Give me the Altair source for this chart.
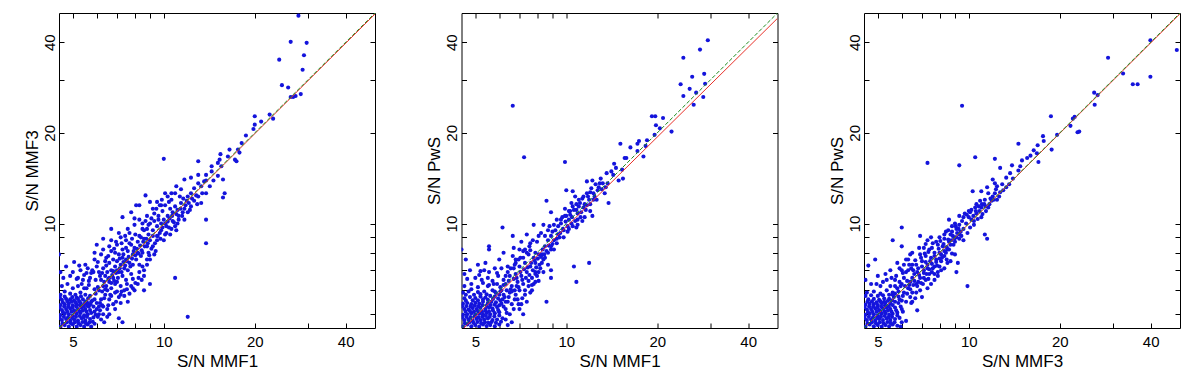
import altair as alt
import pandas as pd

# ---------------- axis settings ----------------
TICKS = [5, 6, 7, 8, 9, 10, 20, 30, 40]
X_LABELS = [5, 10, 20, 40]
Y_LABELS = [10, 20, 40]
DOMAIN = [4.5, 50]
BLUE = "#1414dc"

# ---------------- panel 1 : S/N MMF1 (x) vs S/N MMF3 (y) ----------------
p1_core = [
    (4.55, 4.55), (4.7, 4.6), (4.85, 4.55), (5.0, 4.62), (5.15, 4.55), (5.3, 4.6), (5.45, 4.55), (5.6, 4.62), (5.75, 4.55), (5.9, 4.65),
    (4.6, 4.78), (4.75, 4.82), (4.9, 4.75), (5.05, 4.8), (5.2, 4.76), (5.35, 4.85), (5.5, 4.76), (5.7, 4.82), (5.85, 4.88), (6.05, 4.9),
    (4.55, 4.97), (4.7, 5.02), (4.85, 5.0), (5.0, 4.95), (5.15, 5.02), (5.3, 5.05), (5.45, 4.96), (5.6, 5.0), (5.75, 5.05), (5.9, 5.1),
    (4.6, 5.16), (4.75, 5.2), (4.9, 5.22), (5.05, 5.15), (5.2, 5.2), (5.35, 5.25), (5.5, 5.2), (5.65, 5.3), (5.85, 5.3),
    (4.55, 5.36), (4.7, 5.4), (4.85, 5.42), (5.0, 5.35), (5.15, 5.4), (5.3, 5.45), (5.45, 5.4), (5.6, 5.42), (5.75, 5.5), (6.0, 5.45),
    (4.6, 5.58), (4.75, 5.62), (4.9, 5.6), (5.05, 5.56), (5.2, 5.62), (5.4, 5.6), (5.55, 5.52),
]
p1_core_fill = [
    (4.62, 4.66), (4.78, 4.7), (4.93, 4.67), (5.08, 4.7), (5.23, 4.66), (5.38, 4.71), (5.52, 4.67), (5.68, 4.7), (5.82, 4.72),
    (4.52, 4.86), (4.67, 4.9), (4.82, 4.88), (4.97, 4.86), (5.12, 4.9), (5.27, 4.93), (5.42, 4.88), (5.57, 4.9), (5.95, 4.98),
    (4.64, 5.08), (4.79, 5.1), (4.95, 5.1), (5.1, 5.08), (5.25, 5.12), (5.4, 5.14), (5.55, 5.1), (5.7, 5.16), (6.0, 5.2),
    (4.52, 5.26), (4.68, 5.3), (4.83, 5.31), (4.98, 5.26), (5.13, 5.3), (5.28, 5.35), (5.43, 5.31), (5.58, 5.33), (5.72, 5.4),
    (4.63, 5.48), (4.8, 5.52), (4.95, 5.5), (5.1, 5.48), (5.25, 5.52), (5.5, 5.5), (5.9, 5.6), (4.53, 5.68), (4.7, 5.72),
    (4.98, 5.7), (5.15, 5.68), (5.32, 5.73), (5.62, 5.65), (5.8, 5.55), (6.1, 5.3), (6.15, 5.15), (6.2, 4.8), (6.35, 4.7), (6.5, 4.9),
]
p1_upper = [
    (4.55, 5.8), (4.7, 5.95), (4.9, 5.85), (5.1, 5.8), (5.3, 5.9), (5.5, 5.8), (5.7, 5.75), (4.6, 6.2), (4.8, 6.3), (5.0, 6.1),
    (5.2, 6.2), (5.45, 6.1), (5.65, 6.25), (5.9, 6.05), (4.65, 6.6), (4.9, 6.7), (5.15, 6.55), (5.4, 6.5), (5.7, 6.6), (5.0, 6.9),
    (5.3, 7.0), (4.55, 6.9), (5.55, 6.85), (5.85, 6.9), (4.5, 7.9), (5.05, 7.45), (5.9, 8.0), (5.5, 7.3), (4.75, 7.2), (5.8, 7.0),
    (6.0, 7.2), (5.9, 7.6),
]
p1_band = [
    (6.1, 5.0), (6.3, 5.3), (6.5, 5.2), (6.2, 5.6), (6.4, 5.8), (6.6, 5.6), (6.8, 5.4), (6.1, 6.0), (6.3, 6.2), (6.5, 6.0),
    (6.7, 6.1), (6.9, 5.9), (7.1, 5.7), (6.2, 6.5), (6.4, 6.7), (6.6, 6.4), (6.8, 6.6), (7.0, 6.4), (7.2, 6.2), (6.1, 6.9),
    (6.3, 7.1), (6.5, 6.9), (6.7, 7.0), (6.9, 7.2), (7.1, 6.9), (7.3, 6.7), (7.5, 6.5), (6.4, 7.5), (6.6, 7.4), (6.8, 7.6),
    (7.0, 7.5), (7.2, 7.3), (7.4, 7.1), (7.6, 7.0), (7.8, 6.8), (6.9, 8.0), (7.1, 7.9), (7.3, 7.7), (7.5, 7.6), (7.7, 7.4),
    (7.9, 7.3), (6.3, 8.2), (6.6, 8.4), (7.0, 8.5), (7.3, 8.2), (7.6, 8.1), (7.9, 7.9), (8.1, 7.6), (8.3, 7.3), (6.7, 8.8),
    (7.1, 9.3), (7.5, 8.8), (7.8, 8.5), (8.0, 8.3), (8.2, 8.0), (8.4, 7.8), (6.7, 9.6), (7.3, 10.5), (6.3, 8.9), (6.0, 8.5),
    (6.6, 5.0), (7.3, 4.7), (7.1, 4.85), (6.3, 5.0), (7.6, 5.5), (7.8, 6.2), (8.0, 6.0), (8.2, 6.3), (8.6, 6.0), (9.0, 6.3),
    (8.6, 6.7), (8.8, 7.3), (9.0, 7.6), (10.9, 6.6), (12.0, 4.9), (7.2, 5.8), (7.4, 6.0), (6.9, 6.3),
]
p1_band_fill = [
    (5.95, 5.85), (6.05, 6.15), (6.25, 5.95), (6.35, 6.4), (6.45, 6.2), (6.55, 6.55), (6.7, 6.35), (6.75, 6.75), (6.85, 6.45),
    (6.95, 6.85), (7.05, 6.6), (7.15, 7.1), (7.25, 6.9), (7.35, 7.45), (7.45, 7.25), (7.55, 7.5), (7.65, 7.75), (7.75, 7.2),
    (7.85, 7.65), (7.95, 8.1), (8.05, 7.85), (8.15, 8.25), (8.25, 7.95), (8.35, 8.45), (8.45, 8.15), (8.55, 8.7), (8.65, 8.4),
    (8.75, 8.9), (8.85, 8.6), (6.15, 6.7), (6.45, 7.25), (6.55, 7.8), (6.85, 8.25), (7.25, 8.6), (7.45, 9.1), (7.7, 9.3),
    (6.95, 5.5), (7.25, 5.95), (7.55, 6.3), (7.9, 6.55), (8.3, 6.9), (8.5, 7.2), (6.25, 5.35), (6.65, 5.8), (5.65, 6.45),
    (5.75, 6.85), (6.05, 7.45), (6.2, 7.9), (5.95, 6.5), (5.55, 6.1), (5.35, 6.3),
]
p1_band_extra = [
    (5.2, 6.6), (5.45, 6.75), (5.6, 7.1), (5.25, 7.25), (6.15, 5.45), (6.35, 5.65), (6.55, 5.35), (6.7, 5.75), (6.9, 5.2),
    (7.0, 5.95), (7.2, 5.45), (7.4, 5.75), (7.55, 6.05), (7.7, 5.85), (7.9, 6.1), (8.05, 6.35), (8.25, 6.6), (8.45, 6.5),
    (8.6, 7.0), (8.8, 7.6), (8.95, 7.85), (6.25, 6.85), (6.4, 6.05), (6.6, 6.6), (6.8, 6.95), (7.0, 7.0), (7.15, 7.65),
    (7.35, 7.9), (7.5, 8.3), (7.7, 8.6), (7.85, 8.9), (8.05, 9.2), (8.2, 8.7), (8.4, 9.0), (8.5, 9.6), (8.7, 10.2),
    (8.9, 9.9), (9.1, 10.4), (9.3, 10.8), (9.45, 11.2), (9.7, 11.5), (9.85, 12.0), (10.3, 12.3), (10.6, 12.6), (11.0, 13.3),
    (9.5, 9.1), (9.75, 8.9), (10.1, 9.2), (10.4, 9.7), (10.7, 10.2), (11.2, 10.3), (11.5, 10.6), (12.2, 11.1), (12.9, 11.6),
    (6.45, 7.7), (6.7, 8.1), (6.95, 8.7), (7.2, 9.0), (7.6, 9.6), (8.0, 10.4),
]
p1_mid = [
    (8.0, 9.9), (8.3, 9.1), (8.6, 9.5), (8.8, 8.4), (8.5, 8.0), (9.0, 8.8), (9.2, 8.4), (9.2, 9.1), (9.0, 10.0), (9.5, 8.8),
    (8.3, 10.3), (8.8, 10.6), (8.1, 11.5), (7.8, 10.9), (9.2, 9.5), (9.5, 9.8), (9.8, 9.5), (9.8, 10.0), (10.0, 10.3), (10.2, 9.8),
    (10.0, 8.8), (10.5, 9.2), (8.7, 12.4), (8.3, 11.5), (9.0, 11.8), (9.5, 11.8), (9.2, 11.2), (9.8, 11.5), (10.1, 11.5), (10.1, 12.6),
    (10.6, 12.0), (10.3, 10.6), (10.5, 11.2), (10.7, 10.9), (10.9, 9.8), (11.1, 10.0), (11.0, 9.5), (10.9, 11.4), (11.1, 11.1), (11.4, 11.7),
    (11.7, 11.2), (11.7, 10.3), (12.0, 10.9), (12.3, 11.4), (12.6, 11.9), (11.9, 11.9), (12.0, 12.3), (11.4, 13.0), (10.9, 12.6), (11.7, 14.0),
    (12.3, 12.6), (12.6, 13.1), (12.3, 14.2), (13.0, 13.6), (13.3, 13.3), (13.4, 12.6), (13.0, 12.3), (13.3, 11.7), (13.6, 13.8), (13.8, 12.6),
    (13.8, 13.9), (13.8, 14.5), (13.0, 14.5), (14.2, 13.3), (14.6, 13.9), (14.4, 15.5), (14.4, 14.9), (15.1, 14.4), (15.7, 14.0), (15.1, 15.9),
    (15.5, 15.5), (15.3, 16.3), (15.4, 17.0), (16.3, 16.7), (16.5, 17.6), (17.2, 16.3), (17.4, 16.1), (17.6, 17.6), (17.8, 17.2), (18.1, 18.5),
    (18.7, 19.6), (13.0, 16.1), (10.0, 16.4), (15.9, 12.6), (15.7, 12.2), (13.8, 10.3), (13.8, 8.6), (9.3, 7.9), (8.9, 9.2), (9.6, 10.6),
    (8.5, 10.0),
]
p1_mid_fill = [
    (8.9, 8.0), (9.1, 8.25), (9.35, 8.6), (9.55, 9.1), (9.7, 9.3), (9.9, 9.7), (10.1, 10.0), (10.3, 10.15), (10.45, 10.4), (10.65, 10.6),
    (10.8, 10.1), (11.0, 10.75), (11.2, 10.6), (11.35, 11.2), (11.55, 10.9), (11.8, 11.5), (12.1, 11.7), (12.4, 12.1), (12.8, 12.4),
    (9.3, 10.2), (9.6, 10.3), (8.8, 9.6), (8.6, 8.9), (9.4, 8.1), (10.2, 9.3), (10.6, 9.6), (11.3, 12.3), (11.6, 12.1), (10.4, 11.8),
    (9.9, 11.0),
]
p1_top = [
    (19.8, 20.6), (20.0, 21.3), (20.0, 22.7), (21.0, 21.8), (22.4, 23.0), (23.0, 22.3), (24.6, 28.8), (25.8, 28.3), (26.3, 26.3),
    (26.8, 26.3), (27.3, 26.5), (28.4, 26.9), (24.1, 35.0), (28.8, 32.4), (29.1, 36.2), (26.3, 40.1), (29.7, 39.8), (27.9, 49.0),
]

# ---------------- panel 2 : S/N MMF1 (x) vs S/N PwS (y) ----------------
p2_core = [
    (4.55, 4.55), (4.7, 4.62), (4.85, 4.56), (5.0, 4.6), (5.15, 4.55), (5.3, 4.62), (5.45, 4.57), (5.6, 4.6), (5.8, 4.56), (6.0, 4.62),
    (4.6, 4.78), (4.75, 4.8), (4.9, 4.76), (5.05, 4.82), (5.2, 4.78), (5.35, 4.8), (5.5, 4.84), (5.7, 4.78), (5.9, 4.8), (6.15, 4.85),
    (4.55, 4.98), (4.7, 5.0), (4.85, 5.04), (5.0, 4.98), (5.15, 5.02), (5.3, 5.0), (5.45, 5.05), (5.6, 5.0), (5.8, 5.04), (6.0, 5.08),
    (4.6, 5.2), (4.75, 5.18), (4.9, 5.24), (5.05, 5.2), (5.2, 5.25), (5.4, 5.2), (5.55, 5.26), (5.7, 5.22), (5.9, 5.28), (6.2, 5.3),
    (4.55, 5.42), (4.7, 5.45), (4.85, 5.4), (5.0, 5.46), (5.15, 5.42), (5.3, 5.5), (5.5, 5.45), (5.65, 5.5), (5.85, 5.48), (6.05, 5.55),
    (4.6, 5.65), (4.8, 5.7), (5.0, 5.66), (5.2, 5.72), (5.4, 5.68), (5.6, 5.75), (5.8, 5.72), (6.0, 5.8), (6.25, 5.7),
    (4.55, 5.9), (4.75, 5.95), (5.1, 5.92), (5.35, 5.95), (5.7, 6.0), (6.1, 6.0),
]
p2_core_fill = [
    (4.62, 4.67), (4.78, 4.7), (4.93, 4.68), (5.08, 4.71), (5.23, 4.67), (5.38, 4.7), (5.52, 4.68), (5.66, 4.71), (5.85, 4.68),
    (6.08, 4.72), (4.52, 4.88), (4.67, 4.9), (4.82, 4.89), (4.97, 4.92), (5.12, 4.88), (5.27, 4.9), (5.42, 4.93), (5.58, 4.9),
    (5.78, 4.92), (6.0, 4.95), (4.64, 5.1), (4.8, 5.12), (4.95, 5.1), (5.1, 5.12), (5.26, 5.1), (5.4, 5.13), (5.55, 5.1),
    (5.72, 5.14), (5.95, 5.16), (4.52, 5.31), (4.67, 5.32), (4.82, 5.3), (4.98, 5.34), (5.12, 5.31), (5.28, 5.36), (5.45, 5.33),
    (5.62, 5.36), (5.8, 5.38), (6.1, 5.42), (4.65, 5.55), (4.9, 5.56), (5.1, 5.56), (5.3, 5.6), (5.5, 5.58), (5.72, 5.62),
    (5.95, 5.64), (4.65, 5.8), (4.95, 5.8), (5.2, 5.83), (5.45, 5.82), (5.85, 5.88), (6.3, 5.5), (6.35, 5.05), (6.4, 4.6), (6.6, 4.7),
]
p2_upper = [
    (4.6, 6.2), (4.85, 6.3), (5.1, 6.15), (5.3, 6.35), (5.55, 6.25), (4.7, 6.55), (5.0, 6.6), (5.25, 6.5), (5.5, 6.6), (4.85, 6.05),
    (5.9, 6.3), (6.2, 6.25), (4.5, 8.2), (4.65, 7.6), (5.1, 7.3), (5.4, 7.4), (5.55, 6.9), (5.55, 8.4), (5.55, 8.2), (6.15, 9.7),
    (6.65, 9.1), (6.2, 8.0), (6.65, 7.8), (6.4, 7.2), (6.8, 7.4), (4.8, 7.0), (5.8, 7.1), (6.0, 7.6), (5.2, 6.95), (4.6, 6.8),
]
p2_band = [
    (6.3, 4.8), (6.5, 5.0), (6.7, 5.2), (7.2, 5.0), (6.3, 5.2), (6.4, 5.5), (6.6, 5.4), (6.9, 5.6), (7.1, 5.4), (6.2, 5.8),
    (6.5, 5.9), (6.8, 5.8), (7.0, 6.0), (7.3, 5.8), (7.6, 5.9), (6.3, 6.3), (6.6, 6.2), (6.9, 6.4), (7.2, 6.3), (7.5, 6.2),
    (7.8, 6.3), (6.5, 6.7), (6.8, 6.8), (7.1, 6.7), (7.4, 6.9), (7.7, 6.6), (8.0, 6.7), (6.7, 7.1), (7.0, 7.2), (7.3, 7.4),
    (7.6, 7.2), (7.9, 7.4), (8.2, 7.1), (7.2, 7.7), (7.5, 7.9), (7.8, 7.7), (8.1, 7.9), (8.4, 7.6), (7.0, 8.2), (7.4, 8.0),
    (7.9, 8.0), (8.5, 8.4), (7.6, 8.6), (8.1, 9.1), (8.7, 8.8), (9.1, 8.8), (8.9, 9.1), (8.4, 9.9), (7.8, 9.9), (8.8, 9.8),
    (9.2, 9.5), (8.6, 11.9), (8.9, 10.9), (8.6, 5.5), (8.9, 7.0), (8.9, 6.6), (7.9, 6.9), (7.9, 6.4), (8.3, 7.9),
]
p2_band_fill = [
    (6.05, 6.15), (6.2, 6.5), (6.35, 6.0), (6.45, 6.45), (6.55, 6.05), (6.7, 6.55), (6.75, 6.0), (6.85, 6.6), (6.95, 6.15),
    (7.05, 6.9), (7.15, 6.5), (7.25, 7.05), (7.35, 6.6), (7.45, 7.15), (7.55, 6.75), (7.65, 7.4), (7.75, 7.0), (7.85, 7.55),
    (7.95, 7.15), (8.05, 7.65), (8.15, 7.3), (8.25, 7.75), (8.35, 8.2), (8.45, 7.9), (8.6, 8.1), (8.75, 8.45), (8.9, 8.2),
    (9.0, 8.55), (6.4, 6.9), (6.75, 7.3), (6.95, 7.6), (7.2, 8.1), (7.6, 8.15), (5.75, 6.3), (5.95, 6.7), (6.1, 7.1),
    (7.0, 5.2), (7.4, 5.5), (7.7, 6.0), (8.1, 6.45), (8.4, 6.9), (8.7, 7.3), (6.0, 5.35), (6.75, 5.6),
]
p2_band_extra = [
    (5.15, 6.75), (5.35, 7.0), (5.7, 6.45), (5.9, 6.85), (6.05, 5.95), (6.15, 5.6), (6.45, 5.7), (6.6, 5.95), (6.85, 6.2),
    (6.95, 5.4), (7.15, 5.65), (7.3, 6.0), (7.5, 6.45), (7.7, 6.25), (7.9, 6.8), (8.1, 6.9), (8.3, 7.4), (8.5, 7.7),
    (8.7, 8.0), (8.9, 8.4), (9.1, 8.2), (9.3, 8.6), (9.5, 9.0), (6.3, 6.7), (6.55, 7.1), (6.8, 7.6), (7.05, 7.7),
    (7.3, 8.2), (7.55, 8.4), (7.75, 8.8), (8.0, 8.7), (8.25, 9.3), (8.5, 9.1), (8.7, 9.5), (9.0, 9.4), (9.4, 9.8),
    (9.6, 10.3), (9.9, 10.6), (10.2, 11.0), (10.5, 11.4), (10.8, 11.1), (11.1, 11.7), (11.3, 12.1), (11.8, 12.3), (12.3, 12.6),
    (9.8, 9.0), (10.1, 9.4), (10.5, 9.8), (10.9, 9.9), (11.5, 10.5), (12.0, 11.0), (5.5, 6.2), (5.8, 5.95), (6.7, 8.3),
    (7.1, 8.7), (7.4, 9.2),
]
p2_mid = [
    (9.6, 10.0), (10.1, 9.8), (10.2, 10.3), (10.9, 10.3), (10.6, 11.1), (10.4, 11.7), (11.0, 11.4), (11.2, 10.9), (11.6, 11.1), (12.2, 10.6),
    (10.5, 12.8), (10.0, 12.9), (11.7, 12.6), (12.1, 13.1), (12.4, 12.3), (11.7, 13.8), (12.2, 13.9), (12.7, 12.9), (13.4, 12.6), (13.8, 11.7),
    (12.9, 13.6), (13.7, 13.6), (13.0, 14.1), (13.6, 14.7), (14.1, 14.9), (14.9, 13.9), (15.4, 14.1), (15.3, 15.1), (14.4, 15.8), (15.1, 18.4),
    (15.6, 16.5), (15.8, 16.5), (16.3, 17.9), (17.2, 17.4), (18.0, 16.7), (18.3, 18.1), (17.2, 18.4), (17.4, 18.8), (18.5, 18.9), (19.6, 19.7),
    (9.8, 9.5), (9.3, 10.3), (10.0, 10.6), (10.4, 10.0), (10.8, 9.7), (11.3, 10.2), (11.5, 11.6), (11.0, 12.0), (10.7, 12.3), (11.9, 12.0),
    (12.6, 12.0), (13.1, 13.0), (12.5, 13.5), (14.3, 14.5), (14.6, 15.3), (10.6, 7.2), (11.9, 7.4), (10.8, 6.4), (9.9, 16.0), (7.25, 16.6),
    (6.65, 24.6), (9.4, 9.2), (9.9, 11.2), (10.3, 11.0),
]
p2_mid_fill = [
    (9.3, 8.9), (9.55, 9.3), (9.75, 9.6), (9.95, 10.15), (10.2, 9.6), (10.45, 10.5), (10.7, 10.2), (10.9, 10.8), (11.15, 10.5),
    (11.4, 11.3), (11.7, 11.5), (12.0, 11.6), (12.3, 12.0), (12.0, 12.7), (11.4, 12.3), (10.8, 11.6), (10.3, 10.7), (9.1, 9.9),
    (9.7, 10.5), (13.2, 13.6), (13.5, 13.2), (12.8, 13.2),
]
p2_top = [
    (19.2, 22.7), (19.7, 22.7), (19.8, 21.2), (20.4, 20.7), (20.9, 22.4), (22.3, 20.2), (29.4, 40.6), (27.7, 37.8), (24.4, 35.5),
    (26.1, 30.7), (28.6, 31.4), (23.9, 29.0), (25.6, 28.0), (28.8, 29.1), (26.9, 27.2), (24.4, 26.5), (28.4, 26.3), (26.4, 24.8),
]

# ---------------- panel 3 : S/N MMF3 (x) vs S/N PwS (y) ----------------
p3_core = [
    (4.55, 4.55), (4.7, 4.62), (4.85, 4.56), (5.0, 4.6), (5.15, 4.55), (5.3, 4.6), (5.45, 4.56), (5.6, 4.62), (5.8, 4.58),
    (4.6, 4.78), (4.75, 4.8), (4.9, 4.76), (5.05, 4.82), (5.2, 4.78), (5.35, 4.84), (5.5, 4.78), (5.7, 4.82), (5.9, 4.86),
    (4.55, 4.98), (4.7, 5.02), (4.85, 5.0), (5.0, 4.96), (5.15, 5.02), (5.3, 5.04), (5.45, 4.98), (5.6, 5.02), (5.8, 5.06),
    (4.6, 5.18), (4.75, 5.2), (4.9, 5.22), (5.05, 5.16), (5.2, 5.22), (5.35, 5.26), (5.5, 5.2), (5.7, 5.26), (5.95, 5.3),
    (4.55, 5.38), (4.7, 5.42), (4.85, 5.4), (5.0, 5.36), (5.15, 5.44), (5.3, 5.46), (5.5, 5.42), (5.7, 5.5),
    (4.65, 5.6), (4.85, 5.62), (5.05, 5.58), (5.25, 5.64), (5.45, 5.62), (5.65, 5.7), (5.85, 5.72),
]
p3_core_fill = [
    (4.62, 4.66), (4.78, 4.7), (4.93, 4.67), (5.08, 4.7), (5.23, 4.66), (5.38, 4.71), (5.52, 4.67), (5.68, 4.7), (4.52, 4.86),
    (4.67, 4.9), (4.82, 4.88), (4.97, 4.86), (5.12, 4.9), (5.27, 4.93), (5.42, 4.88), (5.57, 4.9), (5.8, 4.95), (4.64, 5.08),
    (4.79, 5.1), (4.95, 5.1), (5.1, 5.08), (5.25, 5.12), (5.4, 5.14), (5.55, 5.1), (5.75, 5.15), (4.52, 5.28), (4.68, 5.3),
    (4.83, 5.31), (4.98, 5.26), (5.13, 5.3), (5.28, 5.35), (5.43, 5.31), (5.6, 5.36), (5.85, 5.45), (4.62, 5.5), (4.78, 5.52),
    (4.95, 5.48), (5.1, 5.52), (5.25, 5.5), (5.4, 5.54), (5.58, 5.56), (4.55, 5.75), (4.75, 5.78), (5.0, 5.75), (5.2, 5.78),
    (5.45, 5.8), (5.7, 5.85), (6.0, 5.55), (6.05, 5.1), (6.0, 4.7), (5.95, 4.55),
]
p3_upper = [
    (4.65, 7.25), (4.9, 7.6), (4.75, 6.3), (4.95, 6.3), (5.2, 6.4), (5.5, 6.2), (5.3, 6.8), (5.0, 6.7), (4.6, 5.9), (4.85, 5.95),
    (5.1, 5.85), (5.35, 6.0), (5.6, 5.9), (5.6, 8.8), (6.0, 9.7), (6.0, 8.4), (6.5, 8.0), (5.8, 7.4), (6.2, 7.6), (5.5, 7.0),
    (4.55, 6.5),
]
p3_band = [
    (5.6, 5.8), (5.9, 5.6), (6.1, 5.9), (5.8, 6.1), (6.0, 6.3), (6.3, 6.1), (6.5, 5.9), (6.2, 5.5), (6.4, 5.7), (6.75, 5.15),
    (6.2, 4.75), (5.7, 6.5), (6.1, 6.6), (6.4, 6.4), (6.7, 6.3), (6.9, 6.0), (6.6, 6.8), (6.9, 6.6), (7.2, 6.5), (6.3, 7.0),
    (6.8, 7.1), (7.1, 7.0), (7.4, 6.8), (6.5, 7.3), (7.0, 7.5), (7.3, 7.3), (7.6, 7.1), (7.9, 6.9), (6.75, 6.2), (6.9, 7.9),
    (7.2, 7.8), (7.5, 7.7), (7.8, 7.6), (8.1, 7.5), (7.1, 8.3), (7.4, 8.2), (7.7, 8.0), (8.0, 8.0), (8.3, 7.8), (7.6, 8.6),
    (7.9, 8.5), (8.2, 8.4), (8.5, 8.2), (8.0, 9.0), (8.3, 8.9), (8.6, 8.7), (8.9, 8.5), (8.4, 9.4), (8.7, 9.2), (9.0, 9.0),
    (9.3, 8.9), (8.8, 9.8), (9.1, 9.6), (9.4, 9.4), (9.6, 8.8), (9.2, 7.4), (9.1, 6.9), (9.9, 6.2), (7.3, 8.8), (6.9, 9.1),
    (6.0, 5.2), (6.5, 5.5), (7.0, 5.7), (7.3, 6.1), (7.7, 6.5), (8.1, 7.0), (8.5, 7.4), (6.0, 7.0), (6.3, 7.6),
]
p3_band_fill = [
    (5.85, 5.95), (5.95, 6.2), (6.15, 6.2), (6.25, 6.45), (6.35, 6.25), (6.5, 6.6), (6.6, 6.45), (6.75, 6.9), (6.85, 6.75),
    (7.0, 7.2), (7.1, 6.85), (7.2, 7.45), (7.3, 7.1), (7.45, 7.5), (7.55, 7.35), (7.7, 7.8), (7.8, 7.45), (7.95, 8.25),
    (8.1, 7.9), (8.25, 8.55), (8.4, 8.0), (8.55, 8.85), (8.7, 8.5), (8.85, 9.1), (9.0, 8.7), (9.15, 9.3), (9.3, 9.2),
    (6.05, 6.85), (6.35, 7.3), (6.65, 7.55), (6.85, 8.3), (7.2, 8.55), (7.5, 9.0), (6.45, 5.45), (6.7, 5.9), (7.05, 6.3),
    (7.35, 6.55), (7.7, 6.8), (8.0, 7.2), (8.45, 7.6), (8.8, 7.95), (5.75, 6.7), (5.9, 7.1), (6.55, 7.0),
]
p3_band_extra = [
    (5.1, 6.2), (5.35, 6.5), (5.7, 6.2), (5.55, 6.6), (5.9, 6.4), (6.05, 5.75), (6.25, 5.85), (6.4, 6.05), (6.55, 6.25),
    (6.65, 5.65), (6.8, 6.4), (6.95, 6.35), (7.1, 6.6), (7.25, 6.8), (7.4, 7.05), (7.55, 6.9), (7.7, 7.2), (7.85, 7.25),
    (8.0, 7.65), (8.15, 7.7), (8.3, 8.1), (8.45, 8.35), (8.6, 8.2), (8.75, 8.8), (8.95, 8.9), (9.1, 9.0), (9.25, 9.6),
    (9.45, 9.1), (6.2, 6.9), (6.45, 7.1), (6.7, 7.3), (6.95, 7.7), (7.15, 7.95), (7.35, 8.05), (7.55, 8.3), (7.8, 8.7),
    (8.05, 8.75), (8.3, 9.2), (8.55, 9.5), (8.8, 9.4), (9.05, 9.8), (9.6, 10.5), (9.85, 10.7), (10.1, 10.9), (10.35, 10.6),
    (10.55, 11.0), (10.8, 11.4), (11.05, 11.6), (11.35, 11.4), (11.8, 12.1), (12.1, 12.0), (7.5, 6.3), (7.9, 6.7),
    (8.3, 7.1), (8.7, 7.5), (9.0, 7.9), (6.1, 7.3), (6.4, 7.9),
]
p3_mid = [
    (9.5, 10.2), (9.8, 10.0), (10.1, 9.7), (9.3, 10.6), (9.7, 10.8), (10.0, 10.5), (10.4, 10.2), (10.2, 11.1), (10.6, 10.8), (11.0, 10.5),
    (10.6, 11.6), (11.0, 11.3), (11.4, 11.0), (11.3, 9.2), (11.5, 8.9), (10.9, 11.9), (11.3, 12.0), (11.7, 11.6), (11.6, 12.6), (12.0, 12.3),
    (12.4, 12.0), (10.3, 12.8), (12.3, 13.0), (12.7, 12.7), (12.2, 13.6), (12.9, 13.5), (13.3, 13.2), (13.7, 14.7), (13.3, 14.2), (14.0, 14.1),
    (12.7, 15.3), (13.9, 15.6), (14.6, 15.0), (14.8, 15.5), (15.0, 16.2), (15.6, 16.5), (14.6, 18.4), (12.2, 16.4), (10.5, 16.6), (9.3, 15.6),
    (7.3, 15.9), (9.5, 24.6), (16.0, 16.8), (16.4, 17.5), (16.8, 17.1), (17.0, 16.0), (16.9, 18.2), (17.6, 19.5), (17.7, 18.8), (18.8, 17.6),
    (11.0, 12.8), (11.5, 13.2), (12.0, 14.0), (9.0, 10.0), (8.6, 10.3),
]
p3_mid_fill = [
    (9.6, 9.6), (9.9, 9.3), (10.2, 10.3), (10.4, 9.9), (10.7, 10.35), (10.85, 11.0), (11.1, 10.75), (11.25, 11.6), (11.6, 11.3),
    (11.9, 11.9), (12.2, 12.6), (12.6, 12.3), (9.3, 9.9), (10.0, 11.0), (10.5, 11.3), (12.4, 13.3), (13.0, 12.9), (13.6, 13.5),
]
p3_top = [
    (19.6, 19.7), (18.7, 22.7), (21.7, 21.1), (22.4, 22.6), (22.9, 20.1), (23.2, 20.2), (22.1, 22.3), (26.0, 27.2), (26.7, 26.7),
    (26.1, 24.8), (28.9, 35.5), (32.4, 31.5), (34.9, 29.0), (36.2, 29.0), (39.9, 40.6), (39.9, 30.7), (48.8, 37.7),
]

# reference lines: green dashed y = x, red solid fitted relation
line_x = [4.5, 50]
green_y = [4.5, 50]
red1_y = [4.48, 49.6]
red2_y = [4.42, 48.0]
red3_y = [4.5, 49.7]

X_EXPR = "indexof([5, 10, 20, 40], datum.value) >= 0 ? datum.label : ''"
Y_EXPR = "indexof([10, 20, 40], datum.value) >= 0 ? datum.label : ''"


def frame(groups):
    pts = [p for g in groups for p in g]
    return pd.DataFrame({"x": [p[0] for p in pts], "y": [p[1] for p in pts]})


def panel(groups, red_y, xtitle, ytitle):
    sc = alt.Scale(type="log", domain=DOMAIN, nice=False, zero=False)
    ax_bottom = alt.Axis(orient="bottom", values=TICKS, labelExpr=X_EXPR, offset=-5, tickSize=5,
                         domain=False, grid=False, title=xtitle, labelPadding=6, titlePadding=4,
                         labelFlush=False, labelOverlap=False)
    ax_left = alt.Axis(orient="left", values=TICKS, labelExpr=Y_EXPR, offset=-5, tickSize=5,
                       domain=False, grid=False, title=ytitle, labelPadding=2, titlePadding=1,
                       labelAngle=270, labelAlign="center", labelBaseline="bottom",
                       labelFlush=False, labelOverlap=False)
    ax_top = alt.Axis(orient="top", values=TICKS, labels=False, offset=-5, tickSize=5,
                      domain=False, grid=False, title=None)
    ax_right = alt.Axis(orient="right", values=TICKS, labels=False, offset=-5, tickSize=5,
                        domain=False, grid=False, title=None)

    points = alt.Chart(frame(groups)).mark_circle(size=17, color=BLUE, opacity=1, clip=True).encode(
        x=alt.X("x:Q", scale=sc, axis=ax_bottom),
        y=alt.Y("y:Q", scale=sc, axis=ax_left),
    )
    red = alt.Chart(pd.DataFrame({"x": line_x, "y": red_y})).mark_line(
        color="#e8322b", strokeWidth=1, clip=True).encode(
        x=alt.X("x:Q", scale=sc, axis=ax_top),
        y=alt.Y("y:Q", scale=sc, axis=ax_right),
    )
    green = alt.Chart(pd.DataFrame({"x": line_x, "y": green_y})).mark_line(
        color="#1e8a1e", strokeWidth=1, strokeDash=[4, 2], clip=True).encode(
        x=alt.X("x:Q", scale=sc, axis=None),
        y=alt.Y("y:Q", scale=sc, axis=None),
    )
    return alt.layer(points, red, green).resolve_axis(x="independent", y="independent").properties(
        width=316, height=315)


c1 = panel([p1_core, p1_core_fill, p1_upper, p1_band, p1_band_fill, p1_band_extra, p1_mid, p1_mid_fill, p1_top],
           red1_y, "S/N MMF1", "S/N MMF3")
c2 = panel([p2_core, p2_core_fill, p2_upper, p2_band, p2_band_fill, p2_band_extra, p2_mid, p2_mid_fill, p2_top],
           red2_y, "S/N MMF1", "S/N PwS")
c3 = panel([p3_core, p3_core_fill, p3_upper, p3_band, p3_band_fill, p3_band_extra, p3_mid, p3_mid_fill, p3_top],
           red3_y, "S/N MMF3", "S/N PwS")

chart = alt.hconcat(c1, c2, c3, spacing=48.5).properties(
    padding={"left": 14, "top": 4, "right": 0, "bottom": 0},
    background="white",
).configure_view(stroke="black", strokeWidth=1).configure_axis(
    labelFont="Liberation Sans", labelFontSize=15, labelColor="black",
    titleFont="Liberation Sans", titleFontSize=17, titleFontWeight="normal", titleColor="black",
    tickColor="black", tickWidth=1,
)

chart.save("out.html", embed_options={"renderer": "svg", "actions": False})
